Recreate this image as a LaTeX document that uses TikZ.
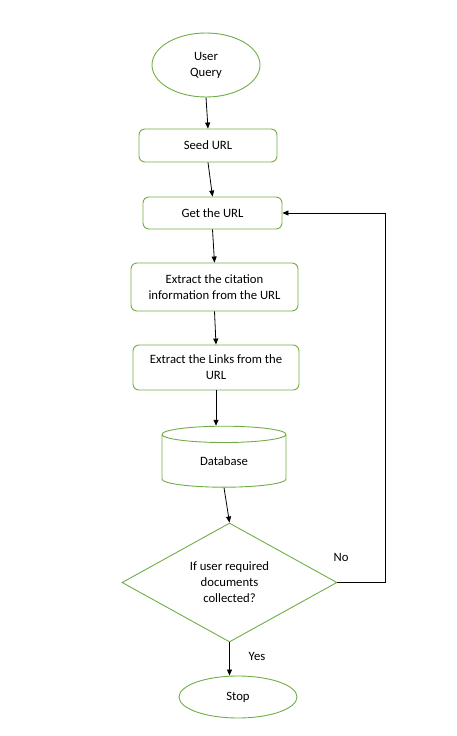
\documentclass[tikz,border=0pt]{standalone}
\usepackage{fontspec}
\setmainfont{Carlito}
\usetikzlibrary{shapes.geometric,arrows.meta}
\definecolor{boxgreen}{RGB}{112,173,71}

\begin{document}
\begin{tikzpicture}[x=1pt, y=-1pt,
    font=\fontsize{12.7}{16}\selectfont,
    startstop/.style={ellipse, draw=boxgreen, line width=0.9pt, align=center, inner sep=0pt},
    procbox/.style={rectangle, rounded corners=6pt, draw=boxgreen, line width=0.9pt, align=center, inner sep=0pt},
    dbase/.style={cylinder, shape border rotate=90, aspect=0.34, draw=boxgreen, line width=0.9pt,
        minimum width=124, minimum height=61, inner sep=0pt},
    decision/.style={diamond, aspect=1.8, draw=boxgreen, line width=0.9pt, align=center,
        minimum width=215, minimum height=119, inner sep=0pt},
    flow/.style={draw=black, line width=0.8pt, -{Triangle[length=6pt, width=5pt]}}]
    \useasboundingbox (0,0) rectangle (457,736);

    % Start
    \node[startstop, minimum width=108, minimum height=64] (query) at (206,65) {User\\Query};

    % Processing steps
    \node[procbox, minimum width=138, minimum height=33] (seed) at (208,145.5) {Seed URL};
    \node[procbox, minimum width=139, minimum height=32] (get) at (212.5,213) {Get the URL};
    \node[procbox, minimum width=167, minimum height=48] (citation) at (214.5,287)
        {Extract the citation\\information from the URL};
    \node[procbox, minimum width=166, minimum height=45] (links) at (216,367.5)
        {Extract the Links from the\\URL};

    % Storage
    \node[dbase] (db) at (224,461) {Database};

    % Decision and end
    \node[decision] (check) at (229.5,582.5) {If user required\\documents\\collected?};
    \node[startstop, minimum width=118, minimum height=42] (stop) at (238,697) {Stop};

    % Labels
    \node (no) at (341,557) {No};
    \node (yes) at (257,656) {Yes};
    \coordinate (loop) at (385,582.5);

    % Arrows down the chain
    \draw[flow] (query.south) -- (seed.north);
    \draw[flow] (seed.south) -- (get.north);
    \draw[flow] (get.south) -- (citation.north);
    \draw[flow] (citation.south) -- (links.north);
    \draw[flow] (links.south) -- (links.south |- db.north);
    \draw[flow] (db.south) -- (check.north);
    \draw[flow] (check.south) -- (check.south |- stop.north);

    % Loop back
    \draw[flow] (check.east) -- (loop) |- (get.east);
\end{tikzpicture}
\end{document}
